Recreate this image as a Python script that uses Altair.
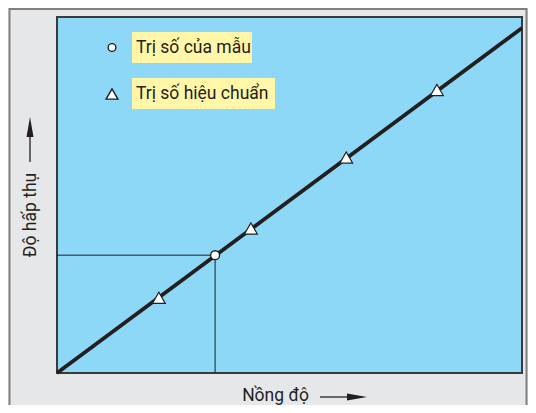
import altair as alt
import pandas as pd

# ---- data ----
line_x = [0.0, 10.0]
line_y = [0.0, 9.69]
calib_x = [2.19, 4.17, 6.22, 8.17]
calib_y = [2.11, 4.06, 6.05, 7.95]
sample_x = [3.40]
sample_y = [3.31]
legend_labels = ["Trị số của mẫu", "Trị số hiệu chuẩn"]
x_title = "Nồng độ"
y_title = "Độ hấp thụ"

INK = "#231f20"
BLUE = "#8dd8f7"
GRAY = "#e6e7e8"
YELLOW = "#fff6a8"
FONT = "Roboto"

xs = alt.Scale(domain=[0, 10], nice=False, zero=False)
ys = alt.Scale(domain=[0, 10], nice=False, zero=False)

line_df = pd.DataFrame({"x": line_x, "y": line_y})
calib_df = pd.DataFrame({"x": calib_x, "y": calib_y})
sample_df = pd.DataFrame({"x": sample_x, "y": sample_y, "x0": [0.0], "y0": [0.0]})
one = pd.DataFrame({"k": [0]})

frame = alt.Chart(one).mark_rect(fillOpacity=0, stroke="#808080", strokeWidth=2).encode(
    x=alt.value(-47.5), x2=alt.value(469.5), y=alt.value(-8), y2=alt.value(420)
)

fit = alt.Chart(line_df).mark_line(color=INK, strokeWidth=3.8).encode(
    x=alt.X("x:Q", scale=xs, axis=None), y=alt.Y("y:Q", scale=ys, axis=None)
)

hrule = alt.Chart(sample_df).mark_rule(color=INK, strokeWidth=1).encode(
    x=alt.X("x0:Q", scale=xs), x2="x:Q", y=alt.Y("y:Q", scale=ys)
)
vrule = alt.Chart(sample_df).mark_rule(color=INK, strokeWidth=1).encode(
    x=alt.X("x:Q", scale=xs), y=alt.Y("y0:Q", scale=ys), y2="y:Q"
)

calib = alt.Chart(calib_df).mark_point(
    shape="triangle-up", filled=True, fill="white", stroke=INK, strokeWidth=1.2, size=165, opacity=1
).encode(x=alt.X("x:Q", scale=xs), y=alt.Y("y:Q", scale=ys))

sample = alt.Chart(sample_df).mark_point(
    shape="circle", filled=True, fill="white", stroke=INK, strokeWidth=1.4, size=80, opacity=1
).encode(x=alt.X("x:Q", scale=xs), y=alt.Y("y:Q", scale=ys))

box1 = alt.Chart(one).mark_rect(color=YELLOW).encode(
    x=alt.value(75), x2=alt.value(195), y=alt.value(15), y2=alt.value(46)
)
box2 = alt.Chart(one).mark_rect(color=YELLOW).encode(
    x=alt.value(75), x2=alt.value(218), y=alt.value(61), y2=alt.value(92)
)
leg_c = alt.Chart(one).mark_point(
    shape="circle", filled=True, fill="white", stroke=INK, strokeWidth=1.4, size=60, opacity=1
).encode(x=alt.value(55), y=alt.value(30.5))
leg_t = alt.Chart(one).mark_point(
    shape="triangle-up", filled=True, fill="white", stroke=INK, strokeWidth=1.4, size=140, opacity=1
).encode(x=alt.value(55), y=alt.value(77))

lab1 = alt.Chart(pd.DataFrame({"t": [legend_labels[0]]})).mark_text(
    align="left", baseline="middle", font=FONT, fontSize=17.5, color=INK
).encode(x=alt.value(79), y=alt.value(31), text="t:N")
lab2 = alt.Chart(pd.DataFrame({"t": [legend_labels[1]]})).mark_text(
    align="left", baseline="middle", font=FONT, fontSize=17.5, color=INK
).encode(x=alt.value(79), y=alt.value(77), text="t:N")

xt = alt.Chart(pd.DataFrame({"t": [x_title]})).mark_text(
    align="center", baseline="middle", font=FONT, fontSize=17.5, color=INK
).encode(x=alt.value(218.5), y=alt.value(379), text="t:N")
yt = alt.Chart(pd.DataFrame({"t": [y_title]})).mark_text(
    align="center", baseline="middle", font=FONT, fontSize=17.5, color=INK, angle=270
).encode(x=alt.value(-26), y=alt.value(198), text="t:N")

xarrow = alt.Chart(one).mark_rule(color=INK, strokeWidth=1.3).encode(
    x=alt.value(263), x2=alt.value(295), y=alt.value(380)
)
xhead = alt.Chart(one).mark_point(
    shape="M-1,-0.35L1,0L-1,0.35Z", filled=True, color=INK, size=400, opacity=1
).encode(x=alt.value(300), y=alt.value(380))
yarrow = alt.Chart(one).mark_rule(color=INK, strokeWidth=1.3).encode(
    x=alt.value(-27), y=alt.value(145), y2=alt.value(112)
)
yhead = alt.Chart(one).mark_point(
    shape="M-0.35,1L0,-1L0.35,1Z", filled=True, color=INK, size=400, opacity=1
).encode(x=alt.value(-27), y=alt.value(110))

chart = alt.layer(
    frame, fit, hrule, vrule, calib, sample,
    box1, box2, leg_c, leg_t, lab1, lab2, xt, yt, xarrow, xhead, yarrow, yhead
).properties(
    width=465, height=356,
    padding={"left": 49, "top": 9, "right": 6, "bottom": 32},
    autosize="none",
    background=GRAY,
).configure_view(fill=BLUE, stroke="#3a3a3a", strokeWidth=2)

chart.save("out.html", embed_options={"renderer": "svg", "actions": False})
